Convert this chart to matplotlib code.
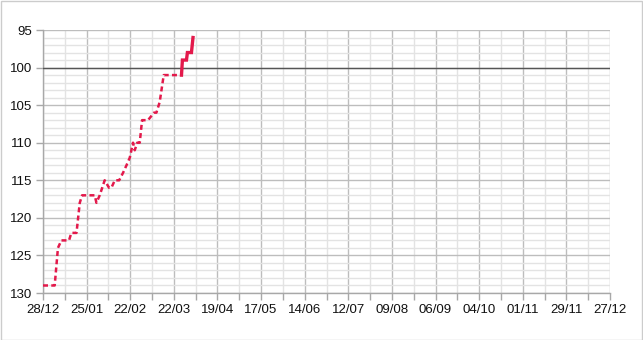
import matplotlib
matplotlib.use("Agg")
import matplotlib.pyplot as plt
from matplotlib.patches import Rectangle
from matplotlib.ticker import MultipleLocator, FixedLocator, FixedFormatter

plt.rcParams['font.family'] = ['Liberation Sans', 'DejaVu Sans']

# Days since 28/12 and values (inverted axis) for the dashed part
dash_days = [0, 7.5, 9.6, 11.8, 16.7, 18.2, 21.5, 23.6, 25.1, 33.2, 34.3, 36.4,
             39.6, 42.4, 43.9, 46.1, 48.9, 51.4, 53.6, 55.7, 57.8, 58.9, 60.5,
             62.1, 63.6, 67.4, 71.3, 72.8, 74.9, 77.5, 88.9]
dash_vals = [129, 129, 124, 123, 123, 122, 122, 118, 117, 117, 118, 117,
             115, 116, 116, 115, 115, 114, 113, 112, 110, 111, 110,
             110, 107, 107, 106, 106, 104.6, 101, 101]

# Solid part
solid_days = [88.9, 89.5, 92.1, 92.7, 95.3, 96.3]
solid_vals = [101, 99, 99, 98, 98, 96]

tick_labels = ["28/12", "25/01", "22/02", "22/03", "19/04", "17/05", "14/06",
               "12/07", "09/08", "06/09", "04/10", "01/11", "29/11", "27/12"]
ref_value = 100

W, H = 643, 340
fig = plt.figure(figsize=(W / 100, H / 100), dpi=100)
ax = fig.add_axes([43 / W, 1 - 293 / H, (610 - 43) / W, (293 - 30) / H])

line_color = '#e3194b'
ax.plot(dash_days, dash_vals, color=line_color, lw=1.8, ls=(0, (2.0, 1.3)),
        zorder=5, solid_joinstyle='miter')
ax.plot(solid_days, solid_vals, color=line_color, lw=2.4, zorder=6,
        solid_joinstyle='miter')
ax.axhline(ref_value, color='#555555', lw=1.0, zorder=4)

ax.set_xlim(0, 364)
ax.set_ylim(130, 95)

ax.xaxis.set_major_locator(FixedLocator([28 * i for i in range(len(tick_labels))]))
ax.xaxis.set_major_formatter(FixedFormatter(tick_labels))
ax.xaxis.set_minor_locator(MultipleLocator(14))
ax.yaxis.set_major_locator(MultipleLocator(5))
ax.yaxis.set_minor_locator(MultipleLocator(1))

ax.grid(which='major', color='#bdbdbd', lw=1.0, zorder=1)
ax.grid(which='minor', color='#e3e3e3', lw=1.0, zorder=0)
ax.set_axisbelow(True)

for s in ['top', 'right']:
    ax.spines[s].set_visible(False)
for s in ['left', 'bottom']:
    ax.spines[s].set_color('#a8a8a8')
    ax.spines[s].set_linewidth(1.0)

ax.tick_params(which='both', color='#a8a8a8', length=5, width=1.0,
               labelsize=9.5, labelcolor='#111111')
ax.tick_params(axis='y', which='minor', length=0)
ax.tick_params(axis='x', pad=3)
ax.tick_params(axis='y', pad=3)

fig.patches.append(Rectangle((0.5 / W, 0.5 / H), 1 - 1.5 / W, 1 - 1.5 / H,
                             transform=fig.transFigure, fill=False,
                             edgecolor='#cccccc', lw=1.0))

fig.savefig('out.png', dpi=100)
